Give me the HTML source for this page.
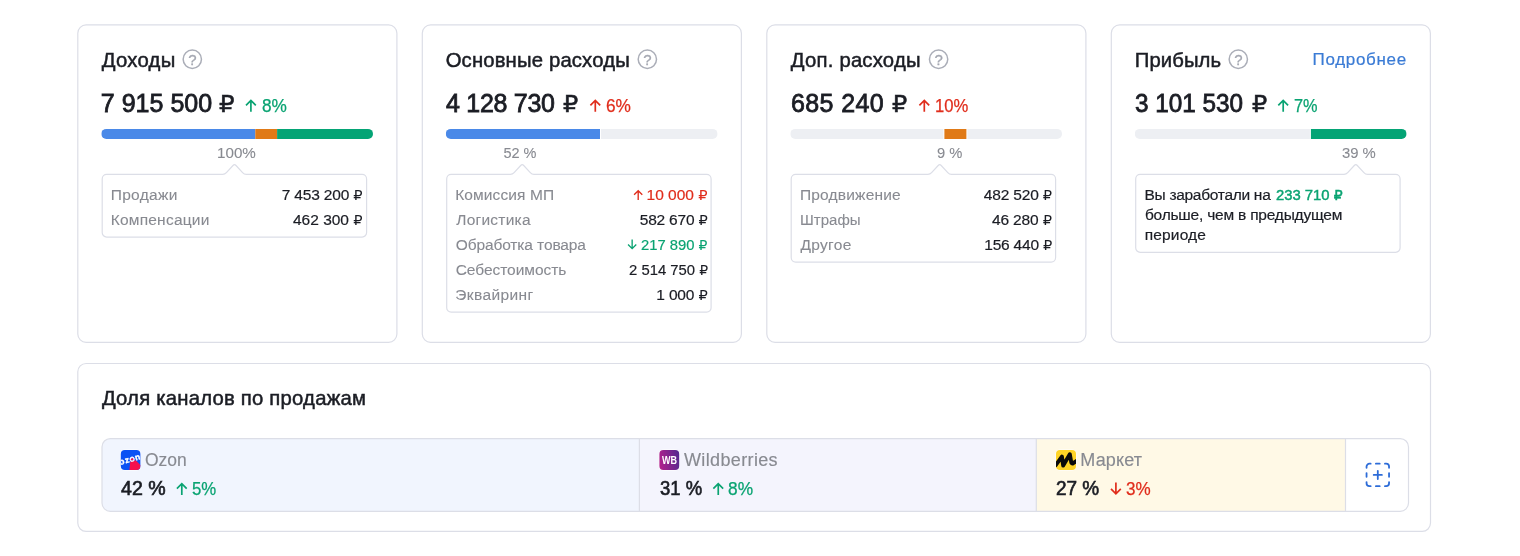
<!DOCTYPE html>
<html lang="ru">
<head>
<meta charset="utf-8">
<title>Дашборд</title>
<style>
*{box-sizing:border-box;margin:0;padding:0}
html,body{width:1520px;height:556px;background:#fff;overflow:hidden}
body{position:relative;font-family:"Liberation Sans","DejaVu Sans",sans-serif;color:#1b1d24}
svg.bg{position:absolute;left:0;top:0;width:1520px;height:556px}
.t{position:absolute;white-space:pre;line-height:30px;transform-origin:0 0;font-family:"Liberation Sans","DejaVu Sans",sans-serif}
.rub{font-family:"DejaVu Sans",sans-serif;line-height:0}
</style>
</head>
<body>
<main>
<svg class="bg" width="1520" height="556" viewBox="0 0 1520 556">
<rect x="77.8" y="24.9" width="319.1" height="317.4" rx="8.3" fill="#fff" stroke="#dcdee7" stroke-width="1.2"/>
<rect x="422.3" y="24.9" width="319.1" height="317.4" rx="8.3" fill="#fff" stroke="#dcdee7" stroke-width="1.2"/>
<rect x="766.8" y="24.9" width="319.1" height="317.4" rx="8.3" fill="#fff" stroke="#dcdee7" stroke-width="1.2"/>
<rect x="1111.3" y="24.9" width="319.1" height="317.4" rx="8.3" fill="#fff" stroke="#dcdee7" stroke-width="1.2"/>
<rect x="77.8" y="363.5" width="1352.7" height="167.9" rx="8.3" fill="#fff" stroke="#dcdee7" stroke-width="1.2"/>
<defs><clipPath id="b0"><rect x="101.3" y="128.9" width="271.7" height="10" rx="5"/></clipPath><clipPath id="b1"><rect x="445.8" y="128.9" width="271.7" height="10" rx="5"/></clipPath><clipPath id="b2"><rect x="790.3" y="128.9" width="271.7" height="10" rx="5"/></clipPath><clipPath id="b3"><rect x="1134.8" y="128.9" width="271.7" height="10" rx="5"/></clipPath><clipPath id="chc"><rect x="102" y="438.6" width="1306.5" height="72.7" rx="8.3"/></clipPath><linearGradient id="wbg" x1="0" y1="0.6" x2="1" y2="0.4"><stop offset="0" stop-color="#b0208c"/><stop offset="1" stop-color="#57298f"/></linearGradient><clipPath id="lg1"><rect x="120.8" y="449.9" width="19.6" height="20.1" rx="4"/></clipPath><clipPath id="lg3"><rect x="1056" y="449.9" width="20" height="20.1" rx="4"/></clipPath></defs>
<g clip-path="url(#b0)"><rect x="101.3" y="128" width="154.0" height="12" fill="#4a89e8"/><rect x="255.3" y="128" width="21.8" height="12" fill="#e07a17"/><rect x="277.1" y="128" width="96.2" height="12" fill="#04a475"/></g>
<g clip-path="url(#b1)"><rect x="445.8" y="128" width="272" height="12" fill="#edeff3"/><rect x="444.8" y="128" width="156.2" height="12" fill="#fff"/><rect x="445.8" y="128" width="154.2" height="12" fill="#4a89e8"/></g>
<g clip-path="url(#b2)"><rect x="790.3" y="128" width="272" height="12" fill="#edeff3"/><rect x="943.4" y="128" width="24.0" height="12" fill="#fff"/><rect x="944.4" y="128" width="22.0" height="12" fill="#e07a17"/></g>
<g clip-path="url(#b3)"><rect x="1134.8" y="128" width="272" height="12" fill="#edeff3"/><rect x="1309.9" y="128" width="97.9" height="12" fill="#fff"/><rect x="1310.9" y="128" width="95.9" height="12" fill="#04a475"/></g>
<path d="M106.70 174.4H222.70Q224.90 174.4 226.40 172.70L233.00 165.50Q234.50 163.90 236.00 165.50L242.60 172.70Q244.10 174.4 246.30 174.4H362.10A4.5 4.5 0 0 1 366.60 178.9V232.60A4.5 4.5 0 0 1 362.10 237.1H106.70A4.5 4.5 0 0 1 102.20 232.60V178.9A4.5 4.5 0 0 1 106.70 174.4Z" fill="#fff" stroke="#dcdee7" stroke-width="1.2"/>
<path d="M451.20 174.4H510.40Q512.60 174.4 514.10 172.70L520.70 165.50Q522.20 163.90 523.70 165.50L530.30 172.70Q531.80 174.4 534.00 174.4H706.60A4.5 4.5 0 0 1 711.10 178.9V307.70A4.5 4.5 0 0 1 706.60 312.2H451.20A4.5 4.5 0 0 1 446.70 307.70V178.9A4.5 4.5 0 0 1 451.20 174.4Z" fill="#fff" stroke="#dcdee7" stroke-width="1.2"/>
<path d="M795.70 174.4H927.90Q930.10 174.4 931.60 172.70L938.20 165.50Q939.70 163.90 941.20 165.50L947.80 172.70Q949.30 174.4 951.50 174.4H1051.10A4.5 4.5 0 0 1 1055.60 178.9V257.60A4.5 4.5 0 0 1 1051.10 262.1H795.70A4.5 4.5 0 0 1 791.20 257.60V178.9A4.5 4.5 0 0 1 795.70 174.4Z" fill="#fff" stroke="#dcdee7" stroke-width="1.2"/>
<path d="M1140.20 174.4H1344.00Q1346.20 174.4 1347.70 172.70L1354.30 165.50Q1355.80 163.90 1357.30 165.50L1363.90 172.70Q1365.40 174.4 1367.60 174.4H1395.60A4.5 4.5 0 0 1 1400.10 178.9V247.80A4.5 4.5 0 0 1 1395.60 252.3H1140.20A4.5 4.5 0 0 1 1135.70 247.80V178.9A4.5 4.5 0 0 1 1140.20 174.4Z" fill="#fff" stroke="#dcdee7" stroke-width="1.2"/>
<g clip-path="url(#chc)"><rect x="102" y="438" width="537.4" height="74" fill="#f1f5fe"/><rect x="639.4" y="438" width="396.9" height="74" fill="#f4f4fd"/><rect x="1036.3" y="438" width="309.2" height="74" fill="#fff9e6"/></g>
<line x1="639.4" y1="438.6" x2="639.4" y2="511.3" stroke="#dcdee7" stroke-width="1.2"/>
<line x1="1036.3" y1="438.6" x2="1036.3" y2="511.3" stroke="#dcdee7" stroke-width="1.2"/>
<line x1="1345.5" y1="438.6" x2="1345.5" y2="511.3" stroke="#dcdee7" stroke-width="1.2"/>
<rect x="102" y="438.6" width="1306.5" height="72.7" rx="8.3" fill="none" stroke="#dcdee7" stroke-width="1.2"/>
<circle cx="192.3" cy="59.25" r="9.15" fill="none" stroke="#abaeb8" stroke-width="1.5"/><text x="192.3" y="65.1" text-anchor="middle" font-family="Liberation Sans, sans-serif" font-size="15" fill="#a4a7b1" stroke="#a4a7b1" stroke-width="0.3">?</text>
<circle cx="647.35" cy="59.25" r="9.15" fill="none" stroke="#abaeb8" stroke-width="1.5"/><text x="647.35" y="65.1" text-anchor="middle" font-family="Liberation Sans, sans-serif" font-size="15" fill="#a4a7b1" stroke="#a4a7b1" stroke-width="0.3">?</text>
<circle cx="938.6" cy="59.25" r="9.15" fill="none" stroke="#abaeb8" stroke-width="1.5"/><text x="938.6" y="65.1" text-anchor="middle" font-family="Liberation Sans, sans-serif" font-size="15" fill="#a4a7b1" stroke="#a4a7b1" stroke-width="0.3">?</text>
<circle cx="1238.3" cy="59.25" r="9.15" fill="none" stroke="#abaeb8" stroke-width="1.5"/><text x="1238.3" y="65.1" text-anchor="middle" font-family="Liberation Sans, sans-serif" font-size="15" fill="#a4a7b1" stroke="#a4a7b1" stroke-width="0.3">?</text>
<path d="M250.90 111.80V100.40M246.00 105.30L250.90 100.40L255.80 105.30" fill="none" stroke="#0aa372" stroke-width="1.7"/>
<path d="M595.30 111.80V100.40M590.40 105.30L595.30 100.40L600.20 105.30" fill="none" stroke="#e02d1c" stroke-width="1.7"/>
<path d="M924.30 111.80V100.40M919.40 105.30L924.30 100.40L929.20 105.30" fill="none" stroke="#e02d1c" stroke-width="1.7"/>
<path d="M1283.20 111.80V100.40M1278.30 105.30L1283.20 100.40L1288.10 105.30" fill="none" stroke="#0aa372" stroke-width="1.7"/>
<path d="M638.20 200.00V190.75M634.10 194.85L638.20 190.75L642.30 194.85" fill="none" stroke="#e02d1c" stroke-width="1.35"/>
<path d="M632.15 239.40V248.65M628.05 244.55L632.15 248.65L636.25 244.55" fill="none" stroke="#0aa372" stroke-width="1.35"/>
<path d="M181.80 495.00V483.70M176.90 488.60L181.80 483.70L186.70 488.60" fill="none" stroke="#0aa372" stroke-width="1.7"/>
<path d="M718.25 495.00V483.70M713.35 488.60L718.25 483.70L723.15 488.60" fill="none" stroke="#0aa372" stroke-width="1.7"/>
<path d="M1115.90 482.50V493.80M1111.00 488.90L1115.90 493.80L1120.80 488.90" fill="none" stroke="#e02d1c" stroke-width="1.7"/>
<rect x="120.3" y="449.4" width="20.6" height="21.1" rx="4.5" fill="#fff"/><g clip-path="url(#lg1)"><rect x="120" y="449" width="21" height="22" fill="#0b52f4"/><path d="M130.3 461.4L135.6 460.2L140.6 465.2V471H129.3Z" fill="#f5104e"/><text transform="translate(120.1 464.9) rotate(-15.5)" font-family="Liberation Sans, sans-serif" font-weight="700" font-size="8.4" textLength="21.4" lengthAdjust="spacing" fill="#fff" stroke="#fff" stroke-width="0.4">ozon</text><ellipse transform="translate(132.1 459.3) rotate(-15.5)" rx="1.4" ry="0.95" fill="#f5104e"/></g>
<rect x="658.9" y="449.4" width="20.8" height="21.1" rx="4.5" fill="#fff"/><rect x="659.4" y="449.9" width="19.8" height="20.1" rx="4" fill="url(#wbg)"/><text x="669.4" y="463.9" text-anchor="middle" font-family="Liberation Sans, sans-serif" font-weight="700" font-size="10.4" textLength="15" lengthAdjust="spacingAndGlyphs" fill="#fff">WB</text>
<rect x="1055.5" y="449.4" width="21" height="21.1" rx="4.5" fill="#fff"/><g clip-path="url(#lg3)"><rect x="1055" y="449" width="22" height="22" fill="#ffd426"/><path d="M1055 466.2L1061.9 456.6L1063.2 465.6L1069.8 454.2L1071.3 462.6Q1071.8 464 1073.2 463.2L1077 460.6" fill="none" stroke="#0a0a0a" stroke-width="3.9" stroke-linejoin="round" stroke-linecap="butt"/></g>
<path d="M0.75 4.85V3.65A2.9 2.9 0 0 1 3.65 0.75H4.85 M19.15 0.75H20.35A2.9 2.9 0 0 1 23.25 3.65V4.85 M23.25 19.15V20.35A2.9 2.9 0 0 1 20.35 23.25H19.15 M4.85 23.25H3.65A2.9 2.9 0 0 1 0.75 20.35V19.15 M10.1 0.75H13.9 M10.1 23.25H13.9 M0.75 10.1V13.9 M23.25 10.1V13.9 M7.9 12H16.1 M12 7.9V16.1" fill="none" stroke="#2d6cd8" stroke-width="1.8" stroke-linecap="round" transform="translate(1365.80 462.95)"/>
</svg>
<section class="card" aria-label="Доходы">
<span class="t" style="left:101.79px;top:45px;font-size:20.3px;color:#1b1d24;letter-spacing:0.25px;-webkit-text-stroke:0.5px currentColor">Доходы</span>
<span class="t" style="left:100.72px;top:88px;font-size:25px;color:#1b1d24;letter-spacing:0.03px;-webkit-text-stroke:0.8px currentColor">7 915 500</span>
<span class="t" style="left:218.80px;top:89px;font-size:24.5px;color:#1b1d24;transform:scaleX(1.057);-webkit-text-stroke:0.5px currentColor"><span class="rub" style="font-size:23.15px">₽</span></span>
<span class="t" style="left:261.58px;top:91px;font-size:18px;color:#0aa372;transform:scaleX(0.958);-webkit-text-stroke:0.25px currentColor">8%</span>
<span class="t" style="left:217.33px;top:138px;font-size:14.5px;color:#888a91;transform:scaleX(1.048);-webkit-text-stroke:0.1px currentColor">100%</span>
<span class="t" style="left:110.66px;top:180px;font-size:15.5px;color:#888a91;letter-spacing:0.34px;-webkit-text-stroke:0.1px currentColor">Продажи</span>
<span class="t" style="left:110.65px;top:205px;font-size:15.5px;color:#888a91;letter-spacing:0.23px;-webkit-text-stroke:0.1px currentColor">Компенсации</span>
<span class="t" style="left:281.66px;top:180px;font-size:15.5px;color:#1b1d24;letter-spacing:-0.17px;-webkit-text-stroke:0.2px currentColor">7 453 200 <span class="rub" style="font-size:14.65px;-webkit-text-stroke:0">₽</span></span>
<span class="t" style="left:293.01px;top:205px;font-size:15.5px;color:#1b1d24;letter-spacing:-0.01px;-webkit-text-stroke:0.2px currentColor">462 300 <span class="rub" style="font-size:14.65px;-webkit-text-stroke:0">₽</span></span>
</section>
<section class="card" aria-label="Основные расходы">
<span class="t" style="left:445.65px;top:45px;font-size:20.3px;color:#1b1d24;letter-spacing:0.16px;-webkit-text-stroke:0.5px currentColor">Основные расходы</span>
<span class="t" style="left:445.97px;top:88px;font-size:25px;color:#1b1d24;letter-spacing:-0.27px;-webkit-text-stroke:0.8px currentColor">4 128 730</span>
<span class="t" style="left:563.31px;top:89px;font-size:24.5px;color:#1b1d24;transform:scaleX(1.035);-webkit-text-stroke:0.5px currentColor"><span class="rub" style="font-size:23.15px">₽</span></span>
<span class="t" style="left:605.94px;top:91px;font-size:18px;color:#e02d1c;transform:scaleX(0.960);-webkit-text-stroke:0.25px currentColor">6%</span>
<span class="t" style="left:503.43px;top:138px;font-size:14.5px;color:#888a91;letter-spacing:-0.02px;-webkit-text-stroke:0.1px currentColor">52 %</span>
<span class="t" style="left:455.15px;top:180px;font-size:15.5px;color:#888a91;letter-spacing:0.12px;-webkit-text-stroke:0.1px currentColor">Комиссия МП</span>
<span class="t" style="left:456.25px;top:205px;font-size:15.5px;color:#888a91;letter-spacing:0.25px;-webkit-text-stroke:0.1px currentColor">Логистика</span>
<span class="t" style="left:455.69px;top:230px;font-size:15.5px;color:#888a91;letter-spacing:-0.11px;-webkit-text-stroke:0.1px currentColor">Обработка товара</span>
<span class="t" style="left:455.65px;top:255px;font-size:15.5px;color:#888a91;letter-spacing:-0.03px;-webkit-text-stroke:0.1px currentColor">Себестоимость</span>
<span class="t" style="left:455.25px;top:280px;font-size:15.5px;color:#888a91;letter-spacing:0.40px;-webkit-text-stroke:0.1px currentColor">Эквайринг</span>
<span class="t" style="left:646.54px;top:180px;font-size:15.5px;color:#e02d1c;-webkit-text-stroke:0.2px currentColor">10 000 <span class="rub" style="font-size:14.65px;-webkit-text-stroke:0">₽</span></span>
<span class="t" style="left:639.74px;top:205px;font-size:15.5px;color:#1b1d24;letter-spacing:-0.21px;-webkit-text-stroke:0.2px currentColor">582 670 <span class="rub" style="font-size:14.65px;-webkit-text-stroke:0">₽</span></span>
<span class="t" style="left:641.21px;top:230px;font-size:15.5px;color:#0aa372;transform:scaleX(0.954);-webkit-text-stroke:0.2px currentColor">217 890 <span class="rub" style="font-size:14.65px;-webkit-text-stroke:0">₽</span></span>
<span class="t" style="left:628.50px;top:255px;font-size:15.5px;color:#1b1d24;transform:scaleX(0.958);-webkit-text-stroke:0.2px currentColor">2 514 750 <span class="rub" style="font-size:14.65px;-webkit-text-stroke:0">₽</span></span>
<span class="t" style="left:656.34px;top:280px;font-size:15.5px;color:#1b1d24;letter-spacing:-0.17px;-webkit-text-stroke:0.2px currentColor">1 000 <span class="rub" style="font-size:14.65px;-webkit-text-stroke:0">₽</span></span>
</section>
<section class="card" aria-label="Доп. расходы">
<span class="t" style="left:790.79px;top:45px;font-size:20.3px;color:#1b1d24;letter-spacing:0.22px;-webkit-text-stroke:0.5px currentColor">Доп. расходы</span>
<span class="t" style="left:790.91px;top:88px;font-size:25px;color:#1b1d24;letter-spacing:0.41px;-webkit-text-stroke:0.8px currentColor">685 240</span>
<span class="t" style="left:891.81px;top:89px;font-size:24.5px;color:#1b1d24;transform:scaleX(1.035);-webkit-text-stroke:0.5px currentColor"><span class="rub" style="font-size:23.15px">₽</span></span>
<span class="t" style="left:934.51px;top:91px;font-size:18px;color:#e02d1c;transform:scaleX(0.924);-webkit-text-stroke:0.25px currentColor">10%</span>
<span class="t" style="left:936.99px;top:138px;font-size:14.5px;color:#888a91;transform:scaleX(1.016);-webkit-text-stroke:0.1px currentColor">9 %</span>
<span class="t" style="left:799.96px;top:180px;font-size:15.5px;color:#888a91;letter-spacing:0.19px;-webkit-text-stroke:0.1px currentColor">Продвижение</span>
<span class="t" style="left:799.98px;top:205px;font-size:15.5px;color:#888a91;transform:scaleX(0.971);-webkit-text-stroke:0.1px currentColor">Штрафы</span>
<span class="t" style="left:800.39px;top:230px;font-size:15.5px;color:#888a91;letter-spacing:0.35px;-webkit-text-stroke:0.1px currentColor">Другое</span>
<span class="t" style="left:983.71px;top:180px;font-size:15.5px;color:#1b1d24;letter-spacing:-0.15px;-webkit-text-stroke:0.2px currentColor">482 520 <span class="rub" style="font-size:14.65px;-webkit-text-stroke:0">₽</span></span>
<span class="t" style="left:991.91px;top:205px;font-size:15.5px;color:#1b1d24;letter-spacing:-0.12px;-webkit-text-stroke:0.2px currentColor">46 280 <span class="rub" style="font-size:14.65px;-webkit-text-stroke:0">₽</span></span>
<span class="t" style="left:984.24px;top:230px;font-size:15.5px;color:#1b1d24;letter-spacing:-0.21px;-webkit-text-stroke:0.2px currentColor">156 440 <span class="rub" style="font-size:14.65px;-webkit-text-stroke:0">₽</span></span>
</section>
<section class="card" aria-label="Прибыль">
<span class="t" style="left:1134.79px;top:45px;font-size:20.3px;color:#1b1d24;letter-spacing:0.08px;-webkit-text-stroke:0.5px currentColor">Прибыль</span>
<span class="t" style="left:1312.49px;top:45px;font-size:17px;color:#3a7bd5;letter-spacing:0.68px;-webkit-text-stroke:0.2px currentColor">Подробнее</span>
<span class="t" style="left:1135.48px;top:88px;font-size:25px;color:#1b1d24;transform:scaleX(0.972);-webkit-text-stroke:0.8px currentColor">3 101 530</span>
<span class="t" style="left:1251.71px;top:89px;font-size:24.5px;color:#1b1d24;transform:scaleX(1.035);-webkit-text-stroke:0.5px currentColor"><span class="rub" style="font-size:23.15px">₽</span></span>
<span class="t" style="left:1293.74px;top:91px;font-size:18px;color:#0aa372;transform:scaleX(0.905);-webkit-text-stroke:0.25px currentColor">7%</span>
<span class="t" style="left:1342.12px;top:138px;font-size:14.5px;color:#888a91;transform:scaleX(1.023);-webkit-text-stroke:0.1px currentColor">39 %</span>
<span class="t" style="left:1144.47px;top:180px;font-size:15.5px;color:#1b1d24;letter-spacing:-0.29px;-webkit-text-stroke:0.2px currentColor">Вы заработали на</span>
<span class="t" style="left:1275.98px;top:180px;font-size:15.5px;color:#0aa372;transform:scaleX(0.957);-webkit-text-stroke:0.45px currentColor">233 710 <span class="rub" style="font-size:14.65px">₽</span></span>
<span class="t" style="left:1144.94px;top:200px;font-size:15.5px;color:#1b1d24;letter-spacing:-0.21px;-webkit-text-stroke:0.2px currentColor">больше, чем в предыдущем</span>
<span class="t" style="left:1144.72px;top:220px;font-size:15.5px;color:#1b1d24;letter-spacing:0.16px;-webkit-text-stroke:0.2px currentColor">периоде</span>
</section>
<section class="card" aria-label="Доля каналов по продажам">
<span class="t" style="left:101.89px;top:383px;font-size:20.3px;color:#1b1d24;letter-spacing:0.22px;-webkit-text-stroke:0.5px currentColor">Доля каналов по продажам</span>
<span class="t" style="left:145.27px;top:445px;font-size:18px;color:#888a91;transform:scaleX(0.971);-webkit-text-stroke:0.15px currentColor">Ozon</span>
<span class="t" style="left:684.00px;top:445px;font-size:18px;color:#888a91;letter-spacing:0.36px;-webkit-text-stroke:0.15px currentColor">Wildberries</span>
<span class="t" style="left:1080.28px;top:445px;font-size:18px;color:#888a91;letter-spacing:0.18px;-webkit-text-stroke:0.15px currentColor">Маркет</span>
<span class="t" style="left:120.73px;top:473px;font-size:20px;color:#1b1d24;transform:scaleX(0.979);-webkit-text-stroke:0.65px currentColor">42 %</span>
<span class="t" style="left:659.56px;top:473px;font-size:20px;color:#1b1d24;transform:scaleX(0.923);-webkit-text-stroke:0.65px currentColor">31 %</span>
<span class="t" style="left:1055.96px;top:473px;font-size:20px;color:#1b1d24;transform:scaleX(0.947);-webkit-text-stroke:0.65px currentColor">27 %</span>
<span class="t" style="left:192.24px;top:474px;font-size:18px;color:#0aa372;transform:scaleX(0.932);-webkit-text-stroke:0.25px currentColor">5%</span>
<span class="t" style="left:728.47px;top:474px;font-size:18px;color:#0aa372;transform:scaleX(0.962);-webkit-text-stroke:0.25px currentColor">8%</span>
<span class="t" style="left:1126.32px;top:474px;font-size:18px;color:#e02d1c;transform:scaleX(0.949);-webkit-text-stroke:0.25px currentColor">3%</span>
</section>
</main>
</body>
</html>
